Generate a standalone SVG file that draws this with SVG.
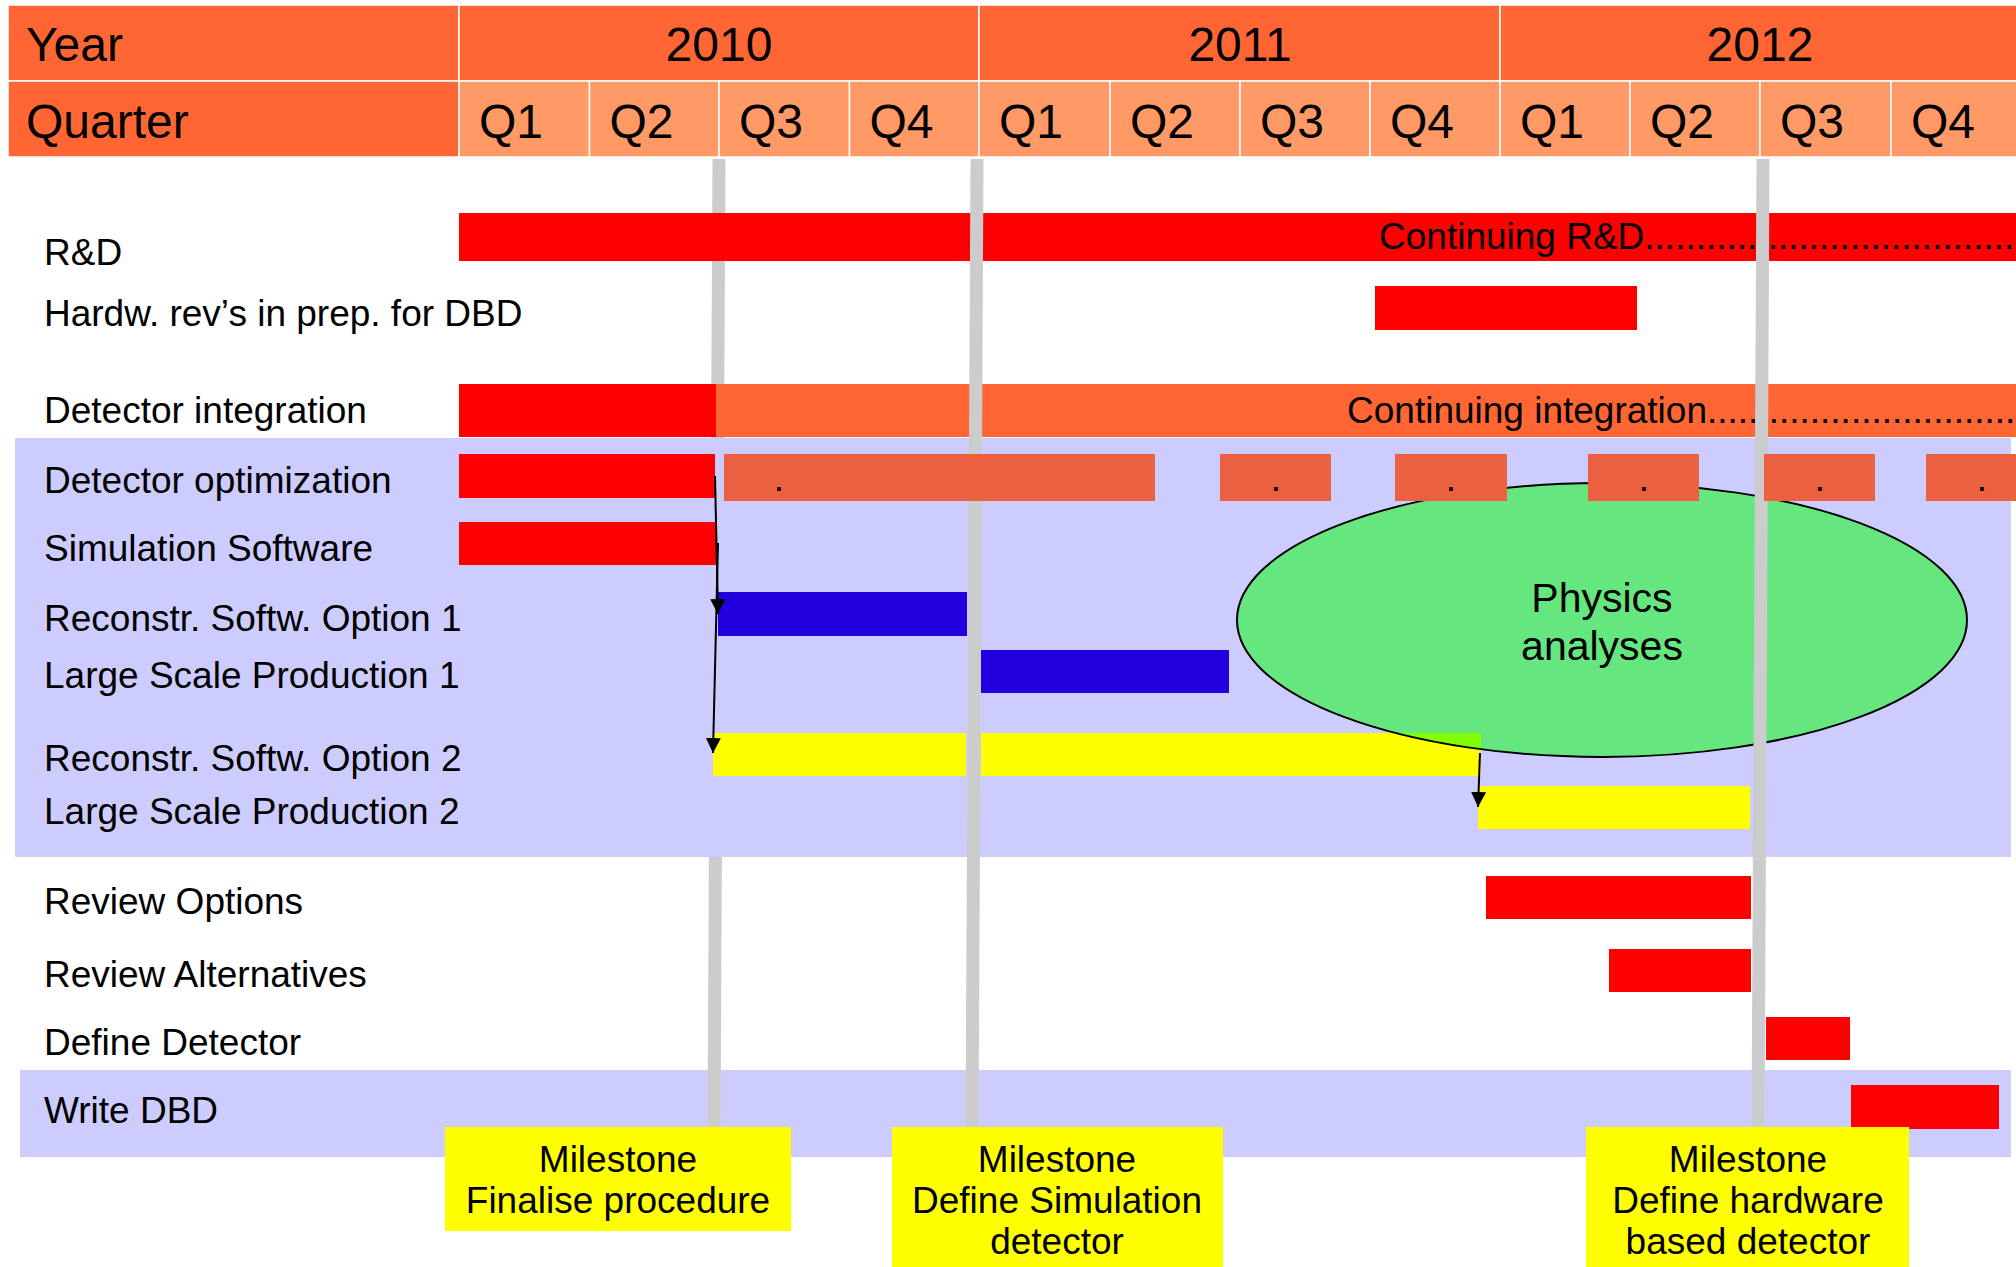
<svg xmlns="http://www.w3.org/2000/svg" width="2016" height="1267" viewBox="0 0 2016 1267">
<style>
text{font-family:"Liberation Sans",Arial,sans-serif;fill:#000}
.hd{font-size:48px}
.lb{font-size:37px}
.ms{font-size:37px;text-anchor:middle}
.yr{fill:#FF6633;stroke:#fff;stroke-width:1.5}
.qt{fill:#FF9966;stroke:#fff;stroke-width:1.5}
.red{fill:#FF0000}
.org{fill:#FF6633}
.opt{fill:#EA6040}
.blu{fill:#2200DD}
.yel{fill:#FFFF00}
.lav{fill:#CCCCFF}
.gl{stroke:#CCCCCC;stroke-width:13;fill:none}
.dot{font-size:37px;text-anchor:middle}
.arr{stroke:#000;stroke-width:2;fill:none;marker-end:url(#ah)}
</style>
<defs>
<marker id="ah" markerUnits="userSpaceOnUse" markerWidth="16" markerHeight="16" refX="15" refY="7.5" orient="auto">
<path d="M0,0 L15,7.5 L0,15 Z" fill="#000"/>
</marker>
</defs>
<rect width="2016" height="1267" fill="#fff"/>
<g id="header">
<rect class="yr" x="8" y="5" width="451" height="76"/>
<rect class="yr" x="459" y="5" width="520" height="76"/>
<rect class="yr" x="979" y="5" width="521" height="76"/>
<rect class="yr" x="1500" y="5" width="530" height="76"/>
<rect class="yr" x="8" y="81" width="451" height="76"/>
<rect class="qt" x="459" y="81" width="130.5" height="76"/>
<rect class="qt" x="589.5" y="81" width="129.5" height="76"/>
<rect class="qt" x="719" y="81" width="130.5" height="76"/>
<rect class="qt" x="849.5" y="81" width="129.5" height="76"/>
<rect class="qt" x="979" y="81" width="131" height="76"/>
<rect class="qt" x="1110" y="81" width="130" height="76"/>
<rect class="qt" x="1240" y="81" width="130" height="76"/>
<rect class="qt" x="1370" y="81" width="130" height="76"/>
<rect class="qt" x="1500" y="81" width="130" height="76"/>
<rect class="qt" x="1630" y="81" width="130" height="76"/>
<rect class="qt" x="1760" y="81" width="131" height="76"/>
<rect class="qt" x="1891" y="81" width="140" height="76"/>
<text class="hd" x="26" y="61">Year</text>
<text class="hd" x="26" y="138">Quarter</text>
<text class="hd" x="719" y="61" text-anchor="middle">2010</text>
<text class="hd" x="1240" y="61" text-anchor="middle">2011</text>
<text class="hd" x="1760" y="61" text-anchor="middle">2012</text>
<text class="hd" x="479" y="138">Q1</text>
<text class="hd" x="609.5" y="138">Q2</text>
<text class="hd" x="739" y="138">Q3</text>
<text class="hd" x="869.5" y="138">Q4</text>
<text class="hd" x="999" y="138">Q1</text>
<text class="hd" x="1130" y="138">Q2</text>
<text class="hd" x="1260" y="138">Q3</text>
<text class="hd" x="1390" y="138">Q4</text>
<text class="hd" x="1520" y="138">Q1</text>
<text class="hd" x="1650" y="138">Q2</text>
<text class="hd" x="1780" y="138">Q3</text>
<text class="hd" x="1911" y="138">Q4</text>
</g>
<g id="panel-write"><rect class="lav" x="20" y="1070" width="1991" height="87"/></g>
<g id="milestone-line-1"><line class="gl" x1="719" y1="159" x2="714" y2="1127"/></g>
<g id="panel-simulation"><rect class="lav" x="15" y="438" width="1996" height="419"/></g>
<g id="row-rd">
<rect class="red" x="459" y="213" width="1557" height="48"/>
<text class="lb" x="44" y="265">R&amp;D</text>
<text class="lb" x="1379" y="249">Continuing R&amp;D....................................</text>
</g>
<g id="row-hardw">
<rect class="red" x="1375" y="286" width="262" height="44"/>
<text class="lb" x="44" y="326">Hardw. rev’s in prep. for DBD</text>
</g>
<g id="row-integration">
<rect class="red" x="459" y="384" width="257" height="53"/>
<rect class="org" x="716" y="384" width="1300" height="53"/>
<text class="lb" x="44" y="423">Detector integration</text>
<text class="lb" x="1347" y="423">Continuing integration..............................</text>
</g>
<g id="row-simulation">
<rect class="red" x="459" y="522" width="257" height="43"/>
<text class="lb" x="44" y="561">Simulation Software</text>
</g>
<g id="row-reco1">
<rect class="blu" x="718" y="592" width="249" height="44"/>
<text class="lb" x="44" y="631">Reconstr. Softw. Option 1</text>
</g>
<g id="row-lsp1">
<rect class="blu" x="981" y="650" width="248" height="43"/>
<text class="lb" x="44" y="688">Large Scale Production 1</text>
</g>
<g id="row-reco2">
<rect class="yel" x="713" y="733" width="253" height="43"/>
<rect class="yel" x="981" y="733" width="500" height="43"/>
<text class="lb" x="44" y="771">Reconstr. Softw. Option 2</text>
</g>
<g id="row-lsp2">
<rect class="yel" x="1478" y="786" width="272" height="43"/>
<text class="lb" x="44" y="824">Large Scale Production 2</text>
</g>
<g id="physics-analyses">
<ellipse cx="1602" cy="620" rx="365" ry="137" fill="#00FF00" fill-opacity="0.5" stroke="#000" stroke-width="2"/>
<text x="1602" y="612" font-size="41" text-anchor="middle">Physics</text>
<text x="1602" y="660" font-size="41" text-anchor="middle">analyses</text>
</g>
<g id="milestone-lines">
<line class="gl" x1="977" y1="159" x2="972" y2="1127"/>
<line class="gl" x1="1763" y1="159" x2="1758" y2="1127"/>
</g>
<g id="row-optimization">
<rect class="red" x="459" y="454" width="256" height="44"/>
<rect class="opt" x="724" y="454" width="431" height="47"/>
<rect class="opt" x="1220" y="454" width="111" height="47"/>
<rect class="opt" x="1395" y="454" width="112" height="47"/>
<rect class="opt" x="1588" y="454" width="111" height="47"/>
<rect class="opt" x="1764" y="454" width="111" height="47"/>
<rect class="opt" x="1926" y="454" width="111" height="47"/>
<text class="dot" x="779" y="491">.</text>
<text class="dot" x="1276" y="491">.</text>
<text class="dot" x="1451" y="491">.</text>
<text class="dot" x="1644" y="491">.</text>
<text class="dot" x="1820" y="491">.</text>
<text class="dot" x="1982" y="491">.</text>
<text class="lb" x="44" y="493">Detector optimization</text>
</g>
<g id="row-review-options">
<rect class="red" x="1486" y="876" width="265" height="43"/>
<text class="lb" x="44" y="914">Review Options</text>
</g>
<g id="row-review-alternatives">
<rect class="red" x="1609" y="949" width="142" height="43"/>
<text class="lb" x="44" y="987">Review Alternatives</text>
</g>
<g id="row-define">
<rect class="red" x="1766" y="1017" width="84" height="43"/>
<text class="lb" x="44" y="1055">Define Detector</text>
</g>
<g id="row-write">
<rect class="red" x="1851" y="1085" width="148" height="44"/>
<text class="lb" x="44" y="1123">Write DBD</text>
</g>
<g id="milestone-1">
<rect class="yel" x="445" y="1127" width="346" height="104"/>
<text class="ms" x="618" y="1172">Milestone</text>
<text class="ms" x="618" y="1213">Finalise procedure</text>
</g>
<g id="milestone-2">
<rect class="yel" x="892" y="1127" width="331" height="140"/>
<text class="ms" x="1057" y="1172">Milestone</text>
<text class="ms" x="1057" y="1213">Define Simulation</text>
<text class="ms" x="1057" y="1254">detector</text>
</g>
<g id="milestone-3">
<rect class="yel" x="1586" y="1127" width="323" height="140"/>
<text class="ms" x="1748" y="1172">Milestone</text>
<text class="ms" x="1748" y="1213">Define hardware</text>
<text class="ms" x="1748" y="1254">based detector</text>
</g>
<g id="connectors">
<line class="arr" x1="715" y1="476" x2="718" y2="614"/>
<line class="arr" x1="718" y1="543" x2="713" y2="753"/>
<line class="arr" x1="1480" y1="753" x2="1478" y2="807"/>
</g>
</svg>
